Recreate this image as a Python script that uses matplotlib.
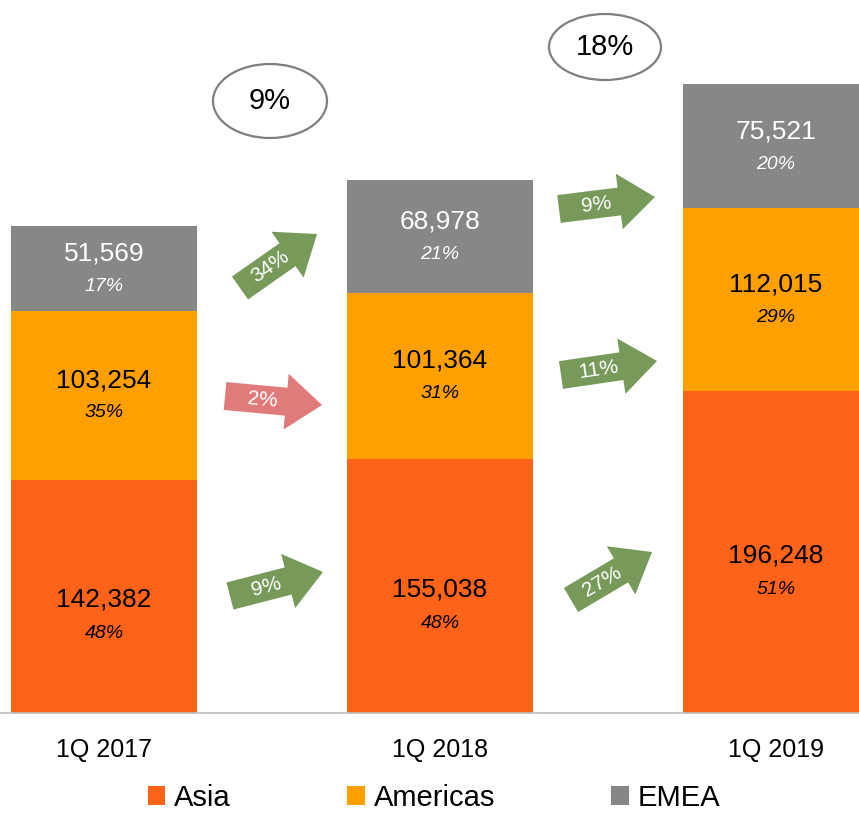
import numpy as np
import matplotlib
matplotlib.use("Agg")
import matplotlib.pyplot as plt
from matplotlib.patches import Polygon, Ellipse

plt.rcParams['font.family'] = ['Liberation Sans', 'DejaVu Sans']

# ---- data ----
quarters = ["1Q 2017", "1Q 2018", "1Q 2019"]
regions = ["Asia", "Americas", "EMEA"]
asia = [142382, 155038, 196248]
americas = [103254, 101364, 112015]
emea = [51569, 68978, 75521]

colors = {"Asia": "#FF6319", "Americas": "#FFA000", "EMEA": "#878786"}
text_colors = {"Asia": "black", "Americas": "black", "EMEA": "white"}
series = {"Asia": asia, "Americas": americas, "EMEA": emea}

W, H = 859, 814
fig = plt.figure(figsize=(W / 100, H / 100), dpi=100)
ax = fig.add_axes([0, 101 / H, 1, 1 - 101 / H])

x = np.arange(len(quarters))
width = 186 / 336
totals = np.array(asia) + np.array(americas) + np.array(emea)

# label offsets (pixels, downward positive) relative to segment centres
val_off = {"Asia": 3.5, "Americas": -15, "EMEA": -15}
pct_off = {"Asia": 37.5, "Americas": 17.5, "EMEA": 18.5}

bottom = np.zeros(len(quarters))
for r in regions:
    vals = np.array(series[r])
    ax.bar(x, vals, width, bottom=bottom, color=colors[r], label=r, zorder=2)
    for i, v in enumerate(vals):
        cy = bottom[i] + v / 2
        ax.annotate(f"{v:,}", (x[i], cy), xytext=(0, -val_off[r] * 0.72),
                    textcoords="offset points", ha="center", va="center",
                    fontsize=19, color=text_colors[r], zorder=3)
        ax.annotate(f"{round(100 * v / totals[i])}%", (x[i], cy),
                    xytext=(0, -pct_off[r] * 0.72), textcoords="offset points",
                    ha="center", va="center", fontsize=14, style="italic",
                    color=text_colors[r], zorder=3)
    bottom += vals

ax.set_xlim(-104 / 336, (W - 104) / 336)
ax.set_ylim(0, 713 / (487 / totals[0]))
ax.set_xticks(x)
ax.set_xticklabels(quarters, fontsize=18)
ax.tick_params(axis="x", length=0, pad=18)
ax.set_yticks([])
for s in ["top", "right", "left"]:
    ax.spines[s].set_visible(False)
ax.spines["bottom"].set_color("#BFBFBF")
ax.spines["bottom"].set_linewidth(1.2)

leg = fig.legend(loc="center", bbox_to_anchor=(434 / W, 1 - 798 / H), ncol=3,
                 frameon=False, fontsize=21, handlelength=0.6, handleheight=0.6,
                 handletextpad=0.3, columnspacing=4.0, borderpad=0)

# ---- overlay for growth arrows and ellipses (pixel coordinates) ----
ov = fig.add_axes([0, 0, 1, 1])
ov.set_xlim(0, W)
ov.set_ylim(H, 0)
ov.axis("off")
ov.patch.set_alpha(0)

arrow_geom = [
    # (tail center, tip) for transitions 2017->2018 and 2018->2019
    {"Asia": ((230, 596), (323, 572)), "Americas": ((225, 396), (322, 405)),
     "EMEA": ((240, 288), (317, 234))},
    {"Asia": ((571, 600), (652, 552)), "Americas": ((561, 375), (657, 361)),
     "EMEA": ((559, 209), (655, 197))},
]
tw, hw, hl = 28, 56, 36
for k in range(len(quarters) - 1):
    for r in regions:
        g = series[r][k + 1] / series[r][k] - 1
        col = "#77995A" if g >= 0 else "#E07B7B"
        (x0, y0), (x1, y1) = arrow_geom[k][r]
        d = np.array([x1 - x0, y1 - y0], float)
        L = np.hypot(*d)
        u = d / L
        n = np.array([-u[1], u[0]])
        t = np.array([x0, y0], float)
        tip = np.array([x1, y1], float)
        hb = tip - u * hl
        pts = [t + n * tw / 2, hb + n * tw / 2, hb + n * hw / 2, tip,
               hb - n * hw / 2, hb - n * tw / 2, t - n * tw / 2]
        ov.add_patch(Polygon(pts, closed=True, facecolor=col, edgecolor="none"))
        c = t + u * 0.39 * L
        ang = np.degrees(np.arctan2(-(y1 - y0), x1 - x0))
        ov.text(c[0], c[1], f"{abs(round(100 * g))}%", rotation=ang,
                rotation_mode="anchor", ha="center", va="center",
                fontsize=15, color="white")

ell_geom = [((270, 101), 114, 74), ((605, 47), 112, 66)]
for k in range(len(quarters) - 1):
    g = totals[k + 1] / totals[k] - 1
    (cx, cy), ew, eh = ell_geom[k]
    ov.add_patch(Ellipse((cx, cy), ew, eh, facecolor="white",
                         edgecolor="#7F7F7F", linewidth=1.6))
    ov.text(cx, cy, f"{round(100 * g)}%", ha="center", va="center",
            fontsize=21, color="black")

fig.savefig("out.png", dpi=100)
